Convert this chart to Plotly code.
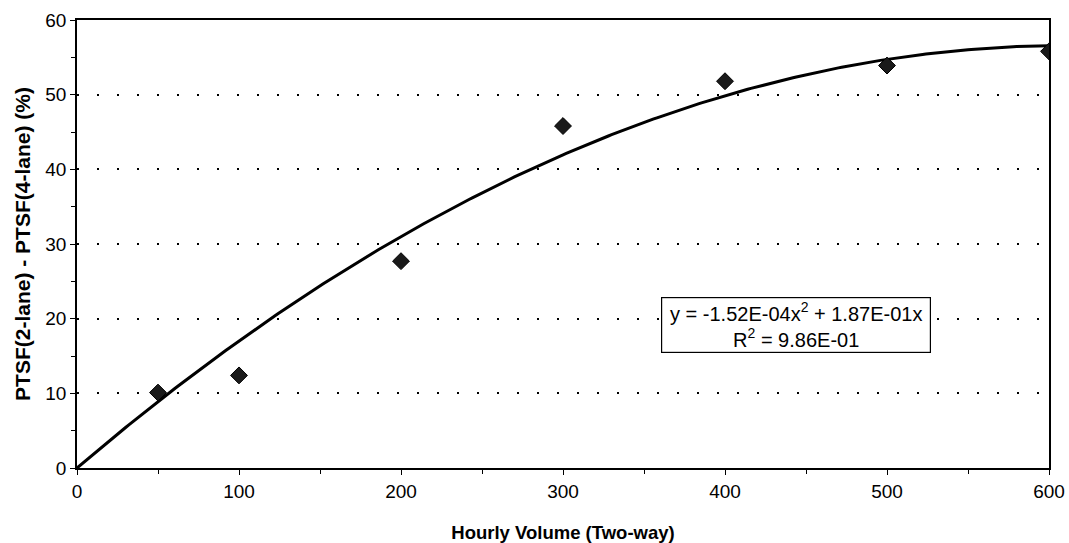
import numpy as np
import plotly.graph_objects as go

# Data
volume = [50, 100, 200, 300, 400, 500, 600]
ptsf_diff = [10.1, 12.4, 27.7, 45.8, 51.8, 53.9, 55.8]

# Trendline label as shown in the chart (2nd-order polynomial through the origin)
trend_label = "y = -1.52E-04x<sup>2</sup> + 1.87E-01x<br>R<sup>2</sup> = 9.86E-01"

x_ticks = [0, 100, 200, 300, 400, 500, 600]
y_ticks = [0, 10, 20, 30, 40, 50, 60]

# Polynomial trendline fitted to the data (y = a x^2 + b x), like the spreadsheet trendline
xv = np.array(volume, dtype=float)
yv = np.array(ptsf_diff, dtype=float)
A = np.column_stack([xv ** 2, xv])
(a_fit, b_fit), *_ = np.linalg.lstsq(A, yv, rcond=None)
xt = np.linspace(0, 600, 301)
yt = a_fit * xt ** 2 + b_fit * xt

FONT = "Liberation Sans, Arial, sans-serif"

fig = go.Figure()
fig.add_trace(go.Scatter(x=xt, y=yt, mode="lines",
                         line=dict(color="black", width=3),
                         showlegend=False, hoverinfo="skip"))
fig.add_trace(go.Scatter(x=volume, y=ptsf_diff, mode="markers",
                         marker=dict(symbol="diamond", size=13, color="#1a1a1a",
                                     line=dict(color="black", width=1)),
                         showlegend=False))

fig.add_annotation(x=444, y=19.2, xref="x", yref="y", text=trend_label,
                   showarrow=False, align="center",
                   font=dict(family=FONT, size=20, color="black"),
                   bordercolor="black", borderwidth=1.2, borderpad=1,
                   bgcolor="white", width=266)

fig.update_layout(
    width=1069, height=543,
    margin=dict(l=77, r=20, t=20, b=75),
    paper_bgcolor="white", plot_bgcolor="white",
    font=dict(family=FONT, size=19, color="black"),
    xaxis=dict(range=[0, 600], tickvals=x_ticks, showgrid=False, automargin=False,
               showline=True, linecolor="black", linewidth=1.5, mirror=True,
               ticks="outside", ticklen=5, tickcolor="black",
               minor=dict(dtick=50, ticks="outside", ticklen=4, tickcolor="black"),
               zeroline=False,
               title=dict(text="<b>Hourly Volume (Two-way)</b>",
                          font=dict(size=18.5), standoff=26),
               tickfont=dict(size=19)),
    yaxis=dict(range=[0, 60], tickvals=y_ticks, showgrid=True, automargin=False,
               gridcolor="black", gridwidth=1.5, griddash="2px,18px",
               showline=True, linecolor="black", linewidth=1.8, mirror=True,
               ticks="outside", ticklen=5, tickcolor="black",
               minor=dict(dtick=5, ticks="outside", ticklen=4, tickcolor="black"),
               zeroline=False,
               title=dict(text="<b>PTSF(2-lane) - PTSF(4-lane) (%)</b>",
                          font=dict(size=21), standoff=9),
               tickfont=dict(size=19)),
)

fig.write_html("out.html", config={"displayModeBar": False},
               post_script="document.body.style.margin='0px';")
